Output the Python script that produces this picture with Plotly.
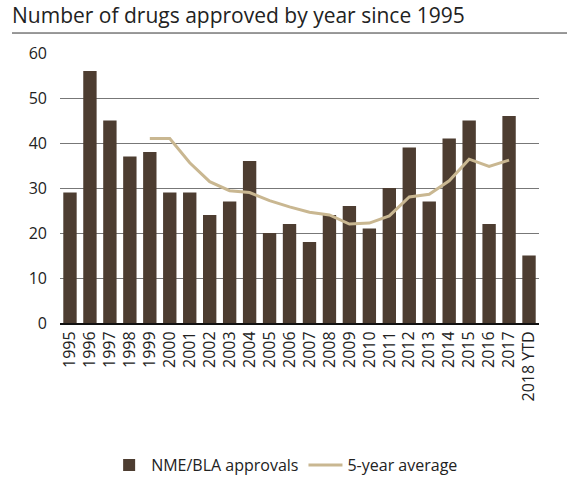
import plotly.graph_objects as go

# Approvals per year and the trailing 5-year average
years = ["1995", "1996", "1997", "1998", "1999", "2000", "2001", "2002",
         "2003", "2004", "2005", "2006", "2007", "2008", "2009", "2010",
         "2011", "2012", "2013", "2014", "2015", "2016", "2017", "2018 YTD"]
approvals = [29, 56, 45, 37, 38, 29, 29, 24, 27, 36, 20, 22, 18, 24, 26, 21,
             30, 39, 27, 41, 45, 22, 46, 15]
avg_years = ["1999", "2000", "2001", "2002", "2003", "2004", "2005", "2006",
             "2007", "2008", "2009", "2010", "2011", "2012", "2013", "2014",
             "2015", "2016", "2017"]
avg_values = [41.0, 41.0, 35.6, 31.4, 29.4, 29.0, 27.2, 25.8, 24.6, 24.0,
              22.0, 22.2, 23.8, 28.0, 28.6, 31.6, 36.4, 34.8, 36.2]
y_ticks = [0, 10, 20, 30, 40, 50, 60]

BAR = "#4d3d31"
LINE = "#c9b791"
FONT = "Open Sans"

fig = go.Figure()
fig.add_trace(go.Bar(x=years, y=approvals, name="NME/BLA approvals",
                     marker=dict(color=BAR, line=dict(width=0))))
fig.add_trace(go.Scatter(x=avg_years, y=avg_values, name="5-year average",
                         mode="lines", line=dict(color=LINE, width=3)))

fig.update_layout(
    width=573, height=481,
    margin=dict(l=60, r=34, t=53, b=158, autoexpand=False),
    paper_bgcolor="white", plot_bgcolor="white",
    font=dict(family=FONT, size=16, color="#222"),
    bargap=0.33,
    showlegend=True,
    legend=dict(orientation="h", x=0.47, xanchor="center", y=-0.526,
                yanchor="middle", font=dict(size=16, color="#222"),
                itemwidth=34, traceorder="normal"),
    xaxis=dict(type="category", tickangle=-90, showgrid=False, ticks="",
               showline=True, linecolor="#111", linewidth=2,
               tickfont=dict(size=16), categoryorder="array",
               categoryarray=years, automargin=False),
    yaxis=dict(range=[0, 60], tickvals=y_ticks, showgrid=True,
               gridcolor="#777", gridwidth=1, zeroline=False, ticks="",
               ticklabelstandoff=12, tickfont=dict(size=16),
               automargin=False),
    annotations=[dict(text="Number of drugs approved by year since 1995",
                      xref="paper", yref="paper", x=-50 / 479, y=1.081,
                      xanchor="left", yanchor="bottom", showarrow=False,
                      font=dict(size=21, color="#222", family=FONT))],
    shapes=[dict(type="line", xref="paper", yref="paper",
                 x0=-48 / 479, x1=507 / 479, y0=1.074, y1=1.074,
                 line=dict(color="#333", width=1))],
)

fig.write_html("out.html")
